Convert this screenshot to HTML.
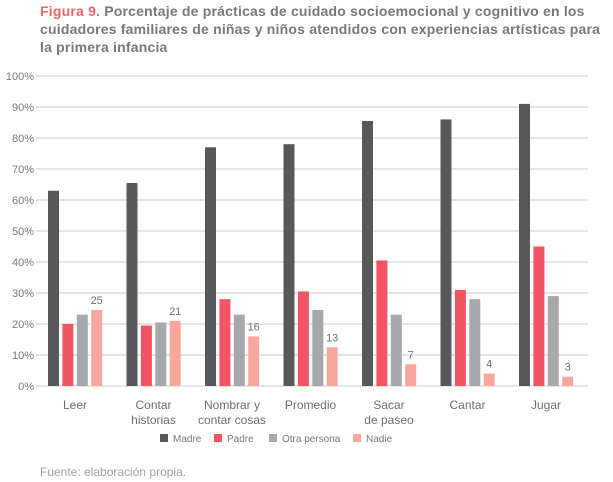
<!DOCTYPE html>
<html><head><meta charset="utf-8"><style>
body{margin:0;width:613px;height:482px;background:#fff;font-family:"Liberation Sans","DejaVu Sans",sans-serif;overflow:hidden}
#title{position:absolute;left:40px;top:2px;font-size:14px;font-weight:bold;color:#77787b;line-height:18px;letter-spacing:0.2px}
#title span{color:#f0636b}
#src{position:absolute;left:40px;top:465px;font-size:12px;color:#a0a0a3}
</style></head><body>
<div id="title"><span>Figura 9.</span> Porcentaje de prácticas de cuidado socioemocional y cognitivo en los cuidadores familiares de niñas y niños atendidos con experiencias artísticas para la primera infancia</div>
<svg id="chart" width="613" height="482" style="position:absolute;left:0;top:0"></svg>
<div id="src">Fuente: elaboración propia.</div>
<script>
const categories=[["Leer"],["Contar","historias"],["Nombrar y","contar cosas"],["Promedio"],["Sacar","de paseo"],["Cantar"],["Jugar"]];
const madre=[63,65.5,77,78,85.5,86,91];
const padre=[20,19.5,28,30.5,40.5,31,45];
const otra=[23,20.5,23,24.5,23,28,29];
const nadie=[24.5,21,16,12.5,7,4,3];
const nadieLabels=["25","21","16","13","7","4","3"];
const ticks=[0,10,20,30,40,50,60,70,80,90,100];
const seriesNames=["Madre","Padre","Otra persona","Nadie"];
const colors=["#58585a","#f25563","#a7a8ab","#f9a79d"];
const NS="http://www.w3.org/2000/svg",svg=document.getElementById('chart');
function el(t,a,p){const e=document.createElementNS(NS,t);for(const k in a)e.setAttribute(k,a[k]);(p||svg).appendChild(e);return e;}
const y=v=>386-v*3.1;
const gx=i=>48+i*78.5;
const bx=(i,s)=>gx(i)+s*14.4;
ticks.forEach(t=>{
 const l=el('line',{x1:36,x2:588,y1:y(t),y2:y(t),stroke:"#d5d5d7","stroke-width":1.3});
 
 const tx=el('text',{x:34,y:y(t)+4,"text-anchor":"end","font-size":11,fill:"#77787b"});
 tx.textContent=t+"%";
 
});
const series=[madre,padre,otra,nadie];
series.forEach((arr,s)=>arr.forEach((v,i)=>{
 const r=el('rect',{x:bx(i,s),y:y(v),width:11,height:v*3.1,fill:colors[s]});
 
 
}));
nadie.forEach((v,i)=>{
 const t=el('text',{x:bx(i,3)+5.5,y:y(v)-6,"text-anchor":"middle","font-size":11,fill:"#6d6e71"});
 t.textContent=nadieLabels[i];
 
});
categories.forEach((c,i)=>{
 c.forEach((line,j)=>{
  const t=el('text',{x:gx(i)+27,y:409+j*15,"text-anchor":"middle","font-size":12,fill:"#6d6e71"});
  t.textContent=line;
  
 });
});
const lx=[160,214,269,353];
seriesNames.forEach((n,s)=>{
 const g=el('g',{});
 
 el('rect',{x:lx[s],y:434,width:8,height:8,fill:colors[s]},g);
 const t=el('text',{x:lx[s]+13,y:442,"font-size":10,fill:"#77787b"},g);t.textContent=n;
});
</script>
</body></html>
